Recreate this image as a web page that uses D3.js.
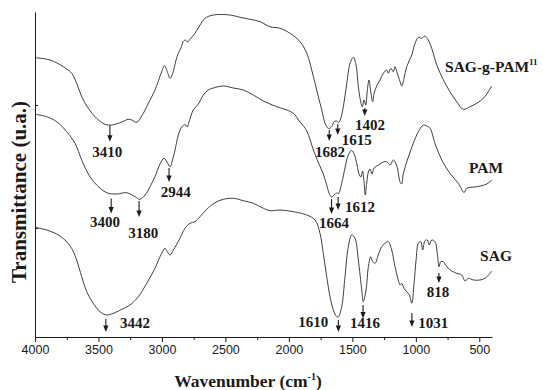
<!DOCTYPE html>
<html><head><meta charset="utf-8">
<script src="https://cdn.jsdelivr.net/npm/d3@7"></script>
<style>body{margin:0;background:#fff}svg{display:block}</style>
</head><body><svg id="c" width="543" height="390"></svg>
<script>
// ---- data ----
const xTicksMajor = [4000, 3500, 3000, 2500, 2000, 1500, 1000, 500];
const xTicksMinor = [3750, 3250, 2750, 2250, 1750, 1250, 750];
const yTicks = [232, 109];

const seriesNames = ["SAG-g-PAM", "PAM", "SAG"];

const sagGPamWn = [4000,3882,3777,3711,3672,3632,3580,3514,3449,3396,3330,3265,3238,3199,3159,3107,3055,3002,2980,2958,2936,2915,2889,2871,2850,2832,2814,2799,2779,2740,2700,2661,2595,2464,2385,2306,2227,2149,2070,1991,1912,1859,1807,1768,1741,1715,1688,1663,1644,1625,1609,1593,1571,1544,1518,1492,1471,1453,1434,1421,1408,1395,1382,1369,1355,1340,1329,1308,1282,1256,1229,1217,1198,1177,1164,1150,1124,1111,1093,1072,1032,1006,980,954,928,902,875,835,783,731,678,626,573,520,468,429,402];
const sagGPamT = [279.3,277,270.3,263.7,253.7,240.3,228.7,218.7,212.7,212,214.3,217.7,217,214.7,221,233.7,247,265.3,271.5,265.3,258.7,263.7,277,283.7,289,295.5,297,295,297.7,303.7,312,318.7,322,322,319.7,317.7,315.3,310.3,308.7,303.7,295.3,283.7,260.3,240.3,227,213.7,208.5,210.3,215.3,216,214.5,218,230.3,253.7,273.7,279.7,272,250.3,235.3,230.3,237,232,247,257,245.3,235.3,243.7,251,257,263.7,267,263.7,268.7,265.3,270.3,265.3,255.3,251,258.7,270.3,282,293.7,299.7,298.7,301,297,288.7,272,257,245.3,235.3,227.7,230.3,233.7,238.7,245.3,251];

const pamWn = [4000,3908,3829,3750,3685,3632,3580,3514,3435,3356,3278,3212,3173,3133,3094,3055,3015,2984,2960,2936,2917,2897,2871,2844,2818,2802,2787,2753,2713,2674,2635,2595,2517,2438,2359,2280,2201,2096,2017,1965,1912,1859,1807,1770,1729,1702,1684,1663,1644,1625,1609,1584,1558,1532,1505,1483,1463,1448,1433,1420,1408,1398,1387,1374,1361,1345,1329,1296,1256,1229,1203,1177,1150,1124,1111,1099,1059,1020,980,941,914,888,849,796,731,665,620,599,520,441,402];
const pamT = [222.7,220.3,215.3,205.3,193.7,177,163,152,144.3,143,144.3,140.3,137.7,142,150.3,160.3,173,178.7,175,170.3,177,187,202,210,212.5,210,215,227,233,242,247,249,251,249,247,242,236,230.3,227,223.7,215,206,187,175,163,152,144,140,142,144,143.5,153.7,169,182,186.5,182,172,163,160,166,155,142,154,165,168,163,169,172,175,175.3,172,177,171,155,153,163,180,193.7,205.3,212,211,208.7,193.7,177,163.7,153.7,144.5,148.7,150.3,153,157];

const sagWn = [4000,3908,3829,3764,3711,3672,3632,3593,3541,3488,3435,3370,3317,3252,3186,3120,3055,3002,2976,2958,2936,2910,2858,2818,2779,2740,2700,2647,2582,2517,2438,2359,2280,2201,2149,2070,1965,1859,1794,1755,1729,1702,1676,1650,1623,1611,1584,1558,1532,1505,1479,1453,1426,1414,1392,1374,1355,1340,1321,1296,1269,1243,1217,1190,1164,1138,1124,1111,1093,1072,1051,1032,1014,998,980,961,946,928,909,894,875,849,831,817,804,783,757,717,678,639,612,586,547,494,455,415,402];
const sagT = [109.7,107,103,97,88.7,77,60.3,45.3,33.7,25.3,22,24.3,27.7,32,40.3,53.7,68.7,83.7,88.7,85.3,82,87,98.7,108.7,113.7,115.3,120.3,127.7,134.3,137.7,138.7,136.3,133.7,128.7,126.3,127,125.3,122,117,103.7,83.7,60.3,40.3,27,20.3,20,30.3,60.3,90.3,102,98.7,77,47,35.3,47,70.3,80.3,75.3,73.7,82,90.3,93.7,95.3,87,70.3,57,52,53.7,48.7,45.3,42,33.7,53.7,77,93.7,95.3,87,96.3,97,92,97,95.3,83.7,70.3,75.3,75.3,70.3,66,63.7,62,56,58.7,57,57,58.7,63.7,66];

// peak annotations: arrow at wn from t0 down to t1; label at (lw, lt)
const peakLabels = ["3410","1682","1615","1402","2944","3400","3180","1664","1612","3442","1610","1416","1031","818"];
const peakWn     = [3410, 1682, 1615, 1402, 2944, 3400, 3180, 1664, 1612, 3442, 1610, 1416, 1031, 818];
const arrowTop   = [211.5, 207, 213, 229, 169, 138.5, 136, 138, 140, 18, 17, 32, 24, 64];
const arrowTip   = [195.3, 196, 202, 221, 155, 123.5, 120, 123, 127, 5, 5, 18.5, 10, 54];
const labelWn    = [3430, 1676, 1584, 1361, 2891, 3449, 3147, 1644, 1558, 3330, 1689, 1400, 981, 826];
const labelT     = [180, 180, 192, 207, 140, 110, 99, 109, 125.5, 9, 10, 9, 9, 40];
const labelAlign = ["middle","middle","start","middle","middle","middle","middle","middle","start","start","end","middle","start","middle"];

const nameWn = [770, 447, 368];
const nameT = [265, 164, 76];
const nameAlign = ["start", "middle", "middle"];

// ---- drawing ----
const svg = d3.select('#c');
const x = d3.scaleLinear().domain([4000, 400]).range([35, 492]);
const y = d3.scaleLinear().domain([0, 325]).range([337, 12]);
const ink = '#1a1a1a';
const serif = '"Liberation Serif","Times New Roman",serif';

// axes
const gx = svg.append('g').attr('transform', 'translate(0,337)')
  .call(d3.axisBottom(x).tickValues(xTicksMajor).tickSize(5).tickSizeOuter(0).tickPadding(3).tickFormat(d3.format('d')));
gx.selectAll('text').attr('font-family', '"Liberation Sans",Arial,sans-serif').attr('font-size', 12.5).attr('fill', ink);
const gxm = svg.append('g').attr('transform', 'translate(0,337)')
  .call(d3.axisBottom(x).tickValues(xTicksMinor).tickSize(3).tickSizeOuter(0).tickFormat(''));
gxm.select('.domain').remove();
const gy = svg.append('g').attr('transform', 'translate(35,0)')
  .call(d3.axisLeft(y).tickValues(yTicks).tickSizeInner(-3).tickSizeOuter(0).tickFormat(''));
svg.selectAll('.domain, .tick line').attr('stroke', ink).attr('stroke-width', 1);

// curves
const line = d3.line().x(d => x(d[0])).y(d => y(d[1])).curve(d3.curveCatmullRom.alpha(0.5));
const allSeries = [[sagGPamWn, sagGPamT], [pamWn, pamT], [sagWn, sagT]];
allSeries.forEach(([wn, t]) => {
  svg.append('path').datum(d3.zip(wn, t)).attr('d', line)
    .attr('fill', 'none').attr('stroke', '#2a2a2a').attr('stroke-width', 0.9);
});

// arrows + peak labels
peakLabels.forEach((lab, i) => {
  const px = x(peakWn[i]), y0 = y(arrowTop[i]), y1 = y(arrowTip[i]);
  svg.append('line').attr('x1', px).attr('x2', px).attr('y1', y0).attr('y2', y1 - 4)
    .attr('stroke', ink).attr('stroke-width', 1.1);
  svg.append('path').attr('d', `M${px - 2.6},${y1 - 6.5}L${px + 2.6},${y1 - 6.5}L${px},${y1}Z`).attr('fill', ink);
  svg.append('text').attr('x', x(labelWn[i])).attr('y', y(labelT[i])).attr('text-anchor', labelAlign[i])
    .attr('font-family', serif).attr('font-weight', 'bold').attr('font-size', 15).attr('fill', ink).text(lab);
});

// series names
seriesNames.forEach((n, i) => {
  const t = svg.append('text').attr('x', x(nameWn[i])).attr('y', y(nameT[i])).attr('text-anchor', nameAlign[i])
    .attr('font-family', serif).attr('font-weight', 'bold').attr('font-size', 15.5).attr('fill', ink).text(n);
  if (i === 0) t.append('tspan').attr('dy', -7).attr('font-size', 9).text('11');
});

// titles
const xt = svg.append('text').attr('x', 248).attr('y', 387).attr('text-anchor', 'middle')
  .attr('font-family', serif).attr('font-weight', 'bold').attr('font-size', 17.5).attr('fill', ink)
  .text('Wavenumber (cm');
xt.append('tspan').attr('dy', -7).attr('font-size', 10).text('-1');
xt.append('tspan').attr('dy', 7).text(')');
svg.append('text').attr('transform', 'translate(26,192) rotate(-90)').attr('text-anchor', 'middle')
  .attr('font-family', serif).attr('font-weight', 'bold').attr('font-size', 21).attr('fill', ink)
  .text('Transmittance (u.a.)');
</script></body></html>
